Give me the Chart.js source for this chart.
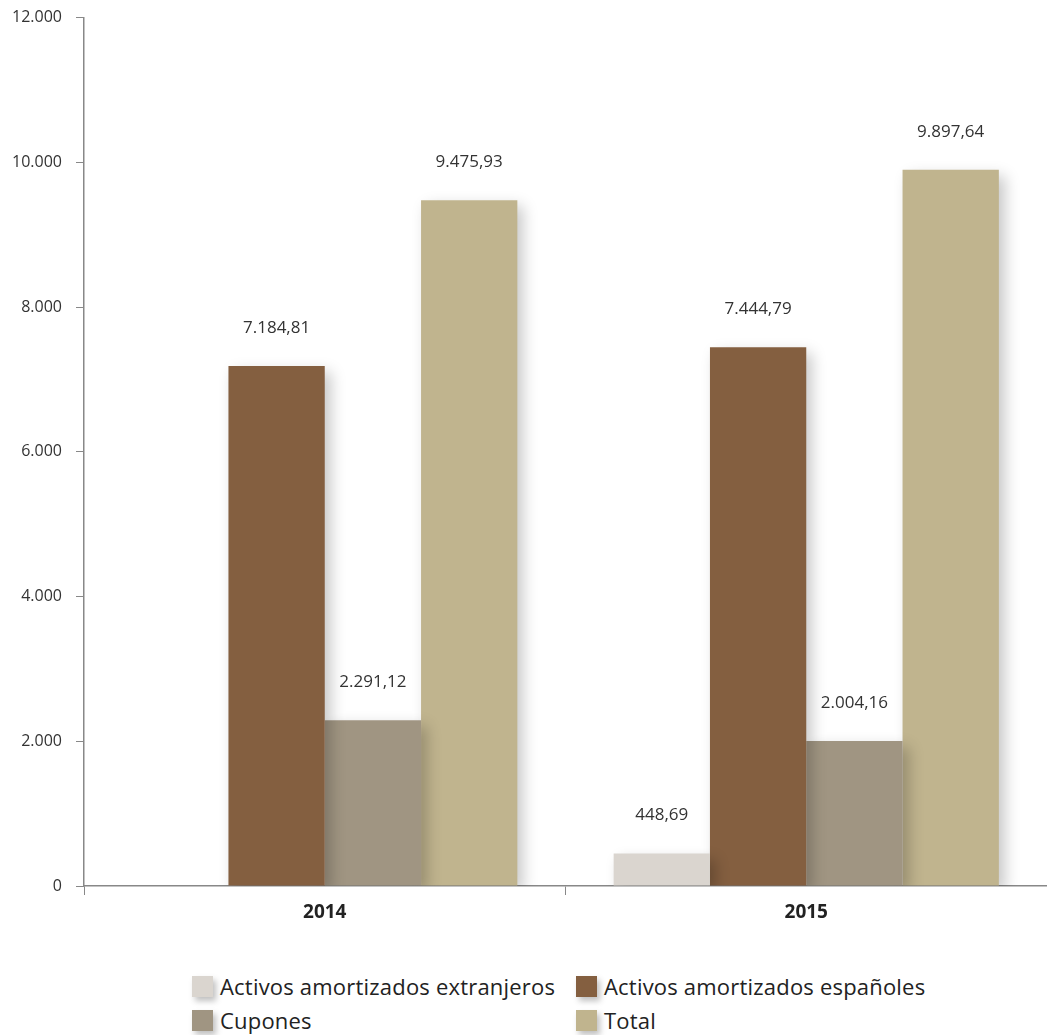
<!DOCTYPE html>
<html>
<head>
<meta charset="utf-8">
<script src="https://cdn.jsdelivr.net/npm/chart.js@4"></script>
<style>
  body { margin: 0; background: #fff; font-family: "Open Sans", sans-serif; }
  #wrap { position: relative; width: 1047px; height: 1035px; overflow: hidden; }
  #chart { position: absolute; left: 0; top: -6px; }
  #legend { position: absolute; left: 0; top: 972px; width: 1047px; }
  .item { position: absolute; display: flex; align-items: center; font-size: 22px; letter-spacing: 0.2px; color: #222; white-space: nowrap; line-height: 28px; }
  .box { width: 21px; height: 21px; margin-right: 7px; box-shadow: 3px 4px 6px rgba(0,0,0,0.25); }
</style>
</head>
<body>
<div id="wrap">
  <canvas id="chart" width="1047" height="941"></canvas>
  <div id="legend"></div>
</div>
<script>
// Data
var years = ["2014", "2015"];
var extranjeros = [null, 448.69];
var espanoles = [7184.81, 7444.79];
var cupones = [2291.12, 2004.16];
var total = [9475.93, 9897.64];
var yTicks = [0, 2000, 4000, 6000, 8000, 10000, 12000];

var seriesNames = ["Activos amortizados extranjeros", "Activos amortizados españoles", "Cupones", "Total"];
var seriesColors = ["#dad5cf", "#845f40", "#a09582", "#c0b48e"];

// Spanish number format: 7.184,81
function fmt(v, dec) {
  var parts = v.toFixed(dec).split(".");
  parts[0] = parts[0].replace(/\B(?=(\d{3})+(?!\d))/g, ".");
  return parts.length > 1 ? parts[0] + "," + parts[1] : parts[0];
}

// Soft drop shadow under the bars
var shadowPlugin = {
  id: "shadow",
  beforeDatasetsDraw: function(chart) {
    var ctx = chart.ctx;
    ctx.save();
    ctx.shadowColor = "rgba(0,0,0,0.22)";
    ctx.shadowBlur = 14;
    ctx.shadowOffsetX = 6;
    ctx.shadowOffsetY = 6;
  },
  afterDatasetsDraw: function(chart) {
    chart.ctx.restore();
  }
};

// Value labels above each bar
var labelPlugin = {
  id: "valueLabels",
  afterDraw: function(chart) {
    var ctx = chart.ctx;
    ctx.save();
    ctx.font = "17px 'Open Sans'";
    ctx.fillStyle = "#333";
    ctx.textAlign = "center";
    ctx.textBaseline = "middle";
    chart.data.datasets.forEach(function(ds, i) {
      chart.getDatasetMeta(i).data.forEach(function(bar, j) {
        var v = ds.data[j];
        if (v === null || v === undefined) return;
        ctx.fillText(fmt(v, 2), bar.x, bar.y - 38);
      });
    });
    ctx.restore();
  }
};

var allSeries = [extranjeros, espanoles, cupones, total];
var datasets = allSeries.map(function(d, i) {
  return {
    label: seriesNames[i],
    data: d,
    backgroundColor: seriesColors[i],
    borderWidth: 0
  };
});

var chart = new Chart(document.getElementById("chart").getContext("2d"), {
  type: "bar",
  data: { labels: years, datasets: datasets },
  options: {
    responsive: false,
    animation: false,
    layout: { padding: { top: 4, right: 0, left: 0, bottom: 0 } },
    plugins: { legend: { display: false }, tooltip: { enabled: false } },
    datasets: { bar: { categoryPercentage: 0.8, barPercentage: 1.0 } },
    scales: {
      x: {
        grid: { drawOnChartArea: false, drawTicks: true, tickLength: 9, color: "#888" },
        border: { color: "#888", width: 1.5 },
        ticks: { color: "#222", padding: 6, font: { family: "Open Sans", size: 19, weight: "bold" } },
        afterFit: function(scale) { scale.height = 49; }
      },
      y: {
        min: 0,
        max: 12000,
        afterBuildTicks: function(scale) {
          scale.ticks = yTicks.map(function(v) { return { value: v }; });
        },
        grid: { drawOnChartArea: false, drawTicks: true, tickLength: 8, color: "#888" },
        border: { color: "#888", width: 1.5 },
        ticks: {
          color: "#333",
          padding: 14,
          font: { family: "Open Sans", size: 16 },
          callback: function(v) { return fmt(v, 0); }
        },
        afterFit: function(scale) { scale.width = 84; }
      }
    }
  },
  plugins: [shadowPlugin, labelPlugin]
});

// Two-column legend below the chart
var legendPos = [[192, 0], [576, 0], [192, 34], [576, 34]];
var legend = document.getElementById("legend");
seriesNames.forEach(function(name, i) {
  var item = document.createElement("div");
  item.className = "item";
  item.style.left = legendPos[i][0] + "px";
  item.style.top = legendPos[i][1] + "px";
  item.innerHTML = '<span class="box" style="background:' + seriesColors[i] + '"></span>' + name;
  legend.appendChild(item);
});
</script>
</body>
</html>
